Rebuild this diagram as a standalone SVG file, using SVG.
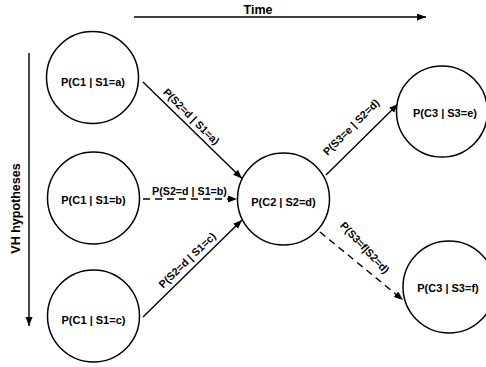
<svg xmlns="http://www.w3.org/2000/svg" width="486" height="367" viewBox="0 0 486 367">
<style>
text{font-family:"Liberation Sans",Arial,Helvetica,sans-serif;font-weight:bold;fill:#000}
.node circle{fill:#fff;stroke:#000;stroke-width:1.5}
.node text{font-size:11px;text-anchor:middle}
.lbl{font-size:10.7px;text-anchor:middle}
.title{font-size:12.5px;text-anchor:middle}
.edge{stroke:#000;stroke-width:1.4;fill:none;marker-end:url(#ah)}
.dash{stroke-dasharray:7,5}
</style>
<defs>
<marker id="ah" markerUnits="userSpaceOnUse" markerWidth="10" markerHeight="8" refX="9" refY="3.5" orient="auto">
<path d="M0,0 L9,3.5 L0,7 z" fill="#000"/>
</marker>
</defs>
<g id="axes">
<line class="edge" x1="134" y1="17" x2="426" y2="17"/>
<text class="title" x="258" y="14">Time</text>
<line class="edge" x1="29" y1="53" x2="29" y2="326"/>
<text class="title" transform="translate(20,208.5) rotate(-90)">VH hypotheses</text>
</g>
<g id="connectors">
<line class="edge" x1="143" y1="82" x2="242" y2="178.5"/>
<line class="edge dash" x1="143" y1="199" x2="237" y2="199"/>
<line class="edge" x1="143" y1="317" x2="242" y2="220"/>
<line class="edge" x1="326" y1="175" x2="398" y2="104"/>
<line class="edge dash" x1="320" y1="232" x2="403" y2="300"/>
<text class="lbl" transform="translate(191.5,116.5) rotate(45)" y="4">P(S2=d | S1=a)</text>
<text class="lbl" x="189.5" y="195">P(S2=d | S1=b)</text>
<text class="lbl" transform="translate(187,260) rotate(-44)" y="4">P(S2=d | S1=c)</text>
<text class="lbl" transform="translate(351,127) rotate(-45)" y="4">P(S3=e | S2=d)</text>
<text class="lbl" transform="translate(365,247.5) rotate(47)" y="4">P(S3=f|S2=d)</text>
</g>
<g id="n_a" class="node"><circle cx="92.5" cy="77.5" r="46"/><text x="93" y="85.5">P(C1 | S1=a)</text></g>
<g id="n_b" class="node"><circle cx="93.5" cy="198" r="46"/><text x="93.5" y="204">P(C1 | S1=b)</text></g>
<g id="n_c" class="node"><circle cx="93.5" cy="316" r="46"/><text x="93.5" y="324">P(C1 | S1=c)</text></g>
<g id="n_c2" class="node"><circle cx="283.5" cy="199" r="46"/><text x="283.5" y="206">P(C2 | S2=d)</text></g>
<g id="n_e" class="node"><circle cx="442" cy="111.5" r="45.5"/><text x="445" y="117">P(C3 | S3=e)</text></g>
<g id="n_f" class="node"><circle cx="449" cy="287" r="46"/><text x="448" y="292">P(C3 | S3=f)</text></g>
</svg>
